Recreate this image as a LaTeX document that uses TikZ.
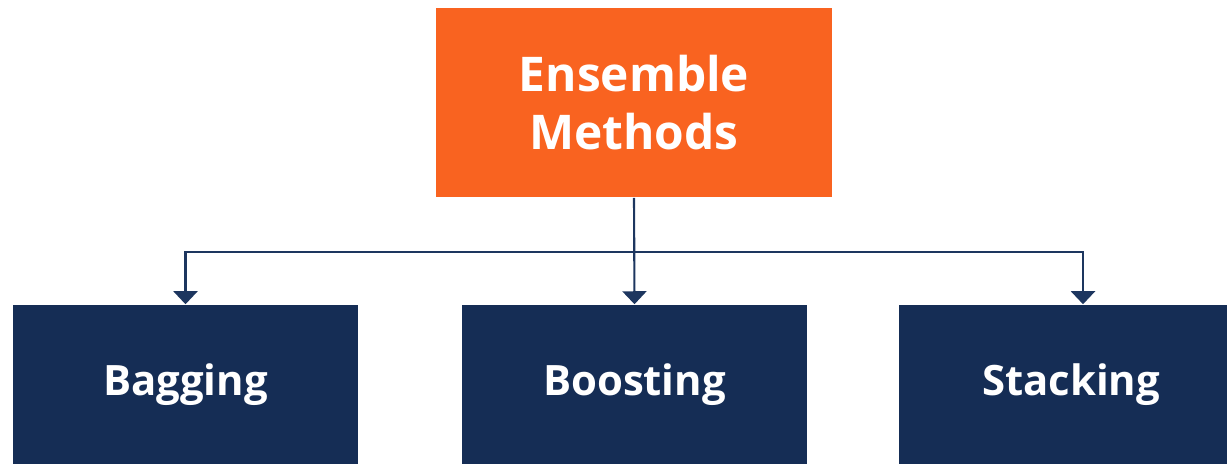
\documentclass[tikz,border=0pt]{standalone}
\usepackage{fontspec}
\setmainfont{Open Sans}
\usepackage{xcolor}
\usepackage{tikz}
\usetikzlibrary{arrows.meta}
\usetikzlibrary{shapes.geometric}

\definecolor{ensorange}{HTML}{F96320}
\definecolor{ensnavy}{HTML}{152D55}
\definecolor{enslink}{HTML}{1D365F}

\begin{document}
\begin{tikzpicture}[x=0.01cm, y=-0.01cm]
        \clip (0,0) rectangle (1227,464);
        % Nodes
        \draw (634,102.5) node(ens) [fill=ensorange, text=white, minimum width=3.96cm, minimum height=1.89cm, align=center, font=\fontsize{13.6}{16.5}\selectfont\bfseries] {Ensemble\\Methods};
        \draw (185.5,384.5) node(bag) [fill=ensnavy, text=white, minimum width=3.45cm, minimum height=1.59cm, font=\fontsize{11.9}{14}\selectfont\bfseries] {Bagging};
        \draw (634.5,384.5) node(boost) [fill=ensnavy, text=white, minimum width=3.44cm, minimum height=1.59cm, font=\fontsize{11.9}{14}\selectfont\bfseries] {Boosting};
        \draw (1071,384.5) node(stack) [fill=ensnavy, text=white, minimum width=3.44cm, minimum height=1.59cm, font=\fontsize{11.9}{14}\selectfont\bfseries] {Stacking};
        \coordinate (split) at (634,252);

        % Edges
        \path (ens.south) edge[draw=enslink, line width=0.6pt, -{Triangle[width=0.24cm, length=0.13cm]}] (boost.north);
        \path (split) edge[draw=enslink, line width=0.6pt, -{Triangle[width=0.24cm, length=0.13cm]}, to path={-| (\tikztotarget)}] (bag.north);
        \path (split) edge[draw=enslink, line width=0.6pt, -{Triangle[width=0.24cm, length=0.13cm]}, to path={-| (\tikztotarget)}] ([xshift=0.12cm]stack.north);
\end{tikzpicture}
\end{document}
